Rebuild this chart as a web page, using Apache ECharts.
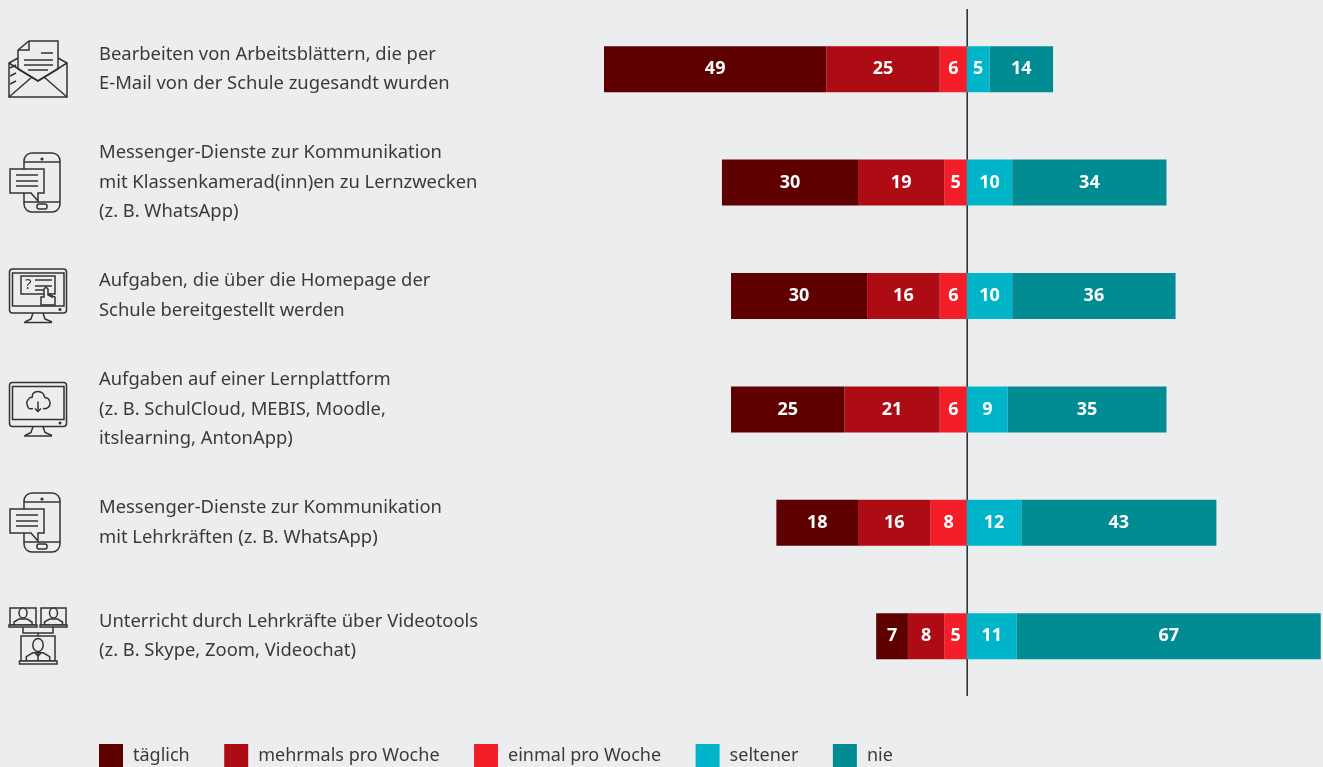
<!DOCTYPE html>
<html lang="de">
<head>
    <meta charset="utf-8">
    <title>Digitale Lernformen</title>
    <script src="https://cdn.jsdelivr.net/npm/echarts@6/dist/echarts.min.js"></script>
    <style>
        html, body { margin: 0; padding: 0; background: #ecedef; overflow: hidden; }
        #main { width: 1323px; height: 767px; }
    </style>
</head>

<body>
    <div id="main"></div>
    <script type="text/javascript">
        var categories = [
            'Bearbeiten von Arbeitsblättern, die per\nE-Mail von der Schule zugesandt wurden',
            'Messenger-Dienste zur Kommunikation\nmit Klassenkamerad(inn)en zu Lernzwecken\n(z. B. WhatsApp)',
            'Aufgaben, die über die Homepage der\nSchule bereitgestellt werden',
            'Aufgaben auf einer Lernplattform\n(z. B. SchulCloud, MEBIS, Moodle,\nitslearning, AntonApp)',
            'Messenger-Dienste zur Kommunikation\nmit Lehrkräften (z. B. WhatsApp)',
            'Unterricht durch Lehrkräfte über Videotools\n(z. B. Skype, Zoom, Videochat)'
        ];
        var legendOrder = ['täglich', 'mehrmals pro Woche', 'einmal pro Woche', 'seltener', 'nie'];

        // left of the zero line, stored as negative
        var taeglich = [-49, -30, -30, -25, -18, -7];
        var mehrmals = [-25, -19, -16, -21, -16, -8];
        var einmal = [-6, -5, -6, -6, -8, -5];
        var seltener = [5, 10, 10, 9, 12, 11];
        var nie = [14, 34, 36, 35, 43, 67];

        var textColor = '#3a3a3c';
        var bg = '#ecedef';
        var fontName = '"Noto Sans", sans-serif';

        function bar(name, data, color) {
            return {
                name: name,
                type: 'bar',
                stack: 'all',
                data: data,
                barWidth: 46,
                itemStyle: { color: color },
                label: {
                    show: true,
                    position: 'inside',
                    color: '#fff',
                    fontFamily: fontName,
                    fontWeight: 'bold',
                    fontSize: 18,
                    formatter: function (p) { return Math.abs(p.value); }
                }
            };
        }

        var myChart = echarts.init(document.getElementById('main'));

        myChart.setOption({
            backgroundColor: bg,
            animation: false,
            legend: {
                data: legendOrder,
                left: 99,
                top: 744,
                padding: 0,
                itemWidth: 24,
                itemHeight: 24,
                itemGap: 34.5,
                icon: 'rect',
                textStyle: { color: textColor, fontFamily: fontName, fontSize: 18, padding: [2, 0, 0, 5] }
            },
            grid: { left: 604, top: 12.5, width: 719, height: 680.4 },
            xAxis: { type: 'value', min: -80, max: 78.5, show: false },
            yAxis: {
                type: 'category',
                inverse: true,
                data: categories,
                axisLine: { show: false },
                axisTick: { show: false },
                axisLabel: {
                    margin: 505,
                    align: 'left',
                    color: textColor,
                    fontFamily: fontName,
                    fontSize: 18.4,
                    lineHeight: 29.5
                }
            },
            // stacking goes outwards from zero, so nearest segment comes first
            series: [
                bar('einmal pro Woche', einmal, '#f41e28'),
                bar('mehrmals pro Woche', mehrmals, '#ae0c14'),
                bar('täglich', taeglich, '#5f0000'),
                bar('seltener', seltener, '#00b5c9'),
                bar('nie', nie, '#008c92')
            ]
        });

        // ---- icons, plain line drawings ----
        var ink = { stroke: '#333', lineWidth: 1.5, fill: 'none' };
        var inkFill = { stroke: '#333', lineWidth: 1.5, fill: bg };

        function L(pts) { return { type: 'polyline', shape: { points: pts }, style: ink }; }
        function P(pts) { return { type: 'polygon', shape: { points: pts }, style: inkFill }; }
        function R(x, y, w, h, r) { return { type: 'rect', shape: { x: x, y: y, width: w, height: h, r: r || 0 }, style: inkFill }; }
        function dot(x, y, r) { return { type: 'circle', shape: { cx: x, cy: y, r: r }, style: { fill: '#333' } }; }
        function E(cx, cy, rx, ry) { return { type: 'ellipse', shape: { cx: cx, cy: cy, rx: rx, ry: ry }, style: inkFill }; }
        function G(dy, kids) { return { type: 'group', x: 0, y: dy, z: 5, children: kids }; }

        var envelope = G(0, [
            L([[18, 58], [9, 63], [9, 97], [67, 97], [67, 63], [58, 58]]),
            P([[18, 50], [29, 41], [58, 41], [58, 69], [38, 81], [18, 69]]),
            L([[29, 41], [29, 50], [18, 50]]),
            L([[41, 53], [53, 53]]), L([[24, 60], [53, 60]]), L([[24, 65], [53, 65]]), L([[28, 70], [48, 70]]),
            L([[9, 63], [38, 81], [67, 63]]),
            L([[9, 97], [32, 77]]), L([[67, 97], [44, 77]]),
            L([[10, 68], [16, 65]]), L([[10, 76], [16, 73]]), L([[10, 84], [16, 81]])
        ]);

        function phone(dy) {
            return G(dy, [
                R(24, 153, 36, 59, 8),
                L([[24, 162], [60, 162]]), L([[24, 202], [60, 202]]),
                dot(42, 159, 1.6),
                R(37, 204, 10, 5, 2),
                P([[10, 169], [44, 169], [44, 193], [38, 193], [38, 201], [31, 193], [10, 193]]),
                L([[16, 175], [38, 175]]), L([[16, 181], [38, 181]]), L([[16, 186], [38, 186]])
            ]);
        }

        function monitor() {
            return [
                R(9.5, 269, 57, 44, 3),
                R(12.5, 273, 51.5, 33),
                dot(60, 309.5, 1.5),
                L([[33, 313], [31, 319], [25, 322]]), L([[43, 313], [45, 319], [52, 322]]),
                L([[24, 322.5], [52, 322.5]])
            ];
        }

        var screenTask = G(0, monitor().concat([
            R(21, 276, 34, 18),
            { type: 'text', style: { x: 25, y: 277, text: '?', fill: '#333', fontSize: 15, fontFamily: fontName } },
            L([[35, 280], [52, 280]]), L([[35, 286], [52, 286]]), L([[35, 290], [44, 290]]),
            P([[41, 305], [41, 297], [44, 297], [44, 289], [46, 287], [48, 289], [48, 295], [55, 297], [55, 305]]),
            L([[50, 293], [50, 297]]), L([[52, 295], [52, 298]])
        ]));

        var screenCloud = G(113.5, monitor().concat([
            {
                type: 'polyline',
                shape: {
                    points: [[33, 295], [29, 295], [27, 291], [27, 288], [30, 284], [32, 284], [33, 280], [38, 278],
                        [43, 280], [45, 284], [48, 285], [50, 289], [49, 293], [46, 295], [43, 295]],
                    smooth: 0.3
                },
                style: ink
            },
            L([[38, 288], [38, 298]]), L([[35, 295], [38, 298], [41, 295]])
        ]));

        function person(cx, top, s) {
            return [
                E(cx, top, 4 * s, 5 * s),
                L([[cx - 9 * s, top + 12 * s], [cx - 9 * s, top + 9 * s], [cx - 4 * s, top + 6 * s], [cx + 4 * s, top + 6 * s],
                    [cx + 9 * s, top + 9 * s], [cx + 9 * s, top + 12 * s]])
            ];
        }

        var video = G(0, [
            R(10, 608, 26, 17), R(41, 608, 25, 17),
            R(9, 625, 28, 2), R(40, 625, 27, 2),
            L([[23, 627], [23, 633], [53, 633], [53, 627]]), L([[38, 633], [38, 636]]),
            R(21, 636, 34, 25),
            R(19.5, 661, 37.5, 3)
        ].concat(person(23, 613, 1), person(53.5, 613, 1), person(38, 645, 1.3), [
            L([[38, 653], [38, 661]]), L([[35, 653], [38, 656], [41, 653]])
        ]));

        var zeroX = myChart.convertToPixel({ xAxisIndex: 0 }, 0) + 0.3;

        myChart.setOption({
            graphic: [
                {
                    type: 'line',
                    z: 0,
                    shape: { x1: zeroX, y1: 9, x2: zeroX, y2: 696 },
                    style: { stroke: '#333', lineWidth: 1.6 }
                },
                envelope, phone(0), screenTask, screenCloud, phone(340), video
            ]
        });
    </script>
</body>
</html>
